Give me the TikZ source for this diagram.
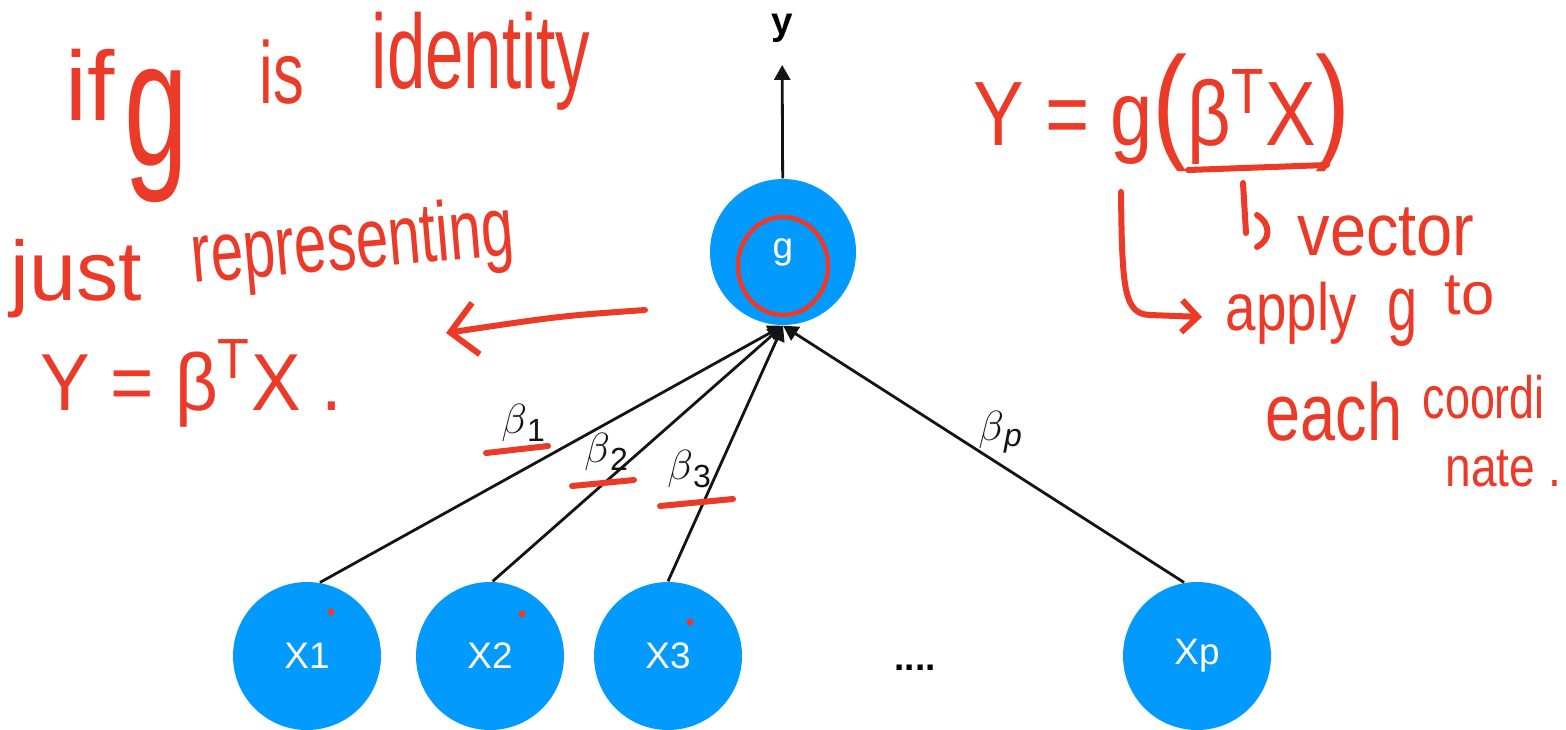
\documentclass[tikz,border=0pt]{standalone}
\usepackage{fontspec}
\setmainfont{Liberation Sans}
\usepackage{graphicx}
\usetikzlibrary{arrows.meta,positioning}
\definecolor{sky}{RGB}{2,154,253}
\definecolor{pen}{RGB}{236,58,40}
\definecolor{ink}{RGB}{20,20,20}
\newcommand{\narrow}[2]{\scalebox{#1}[1]{#2}}
\tikzset{
  >={Triangle[length=1.5mm,width=1.6mm]},
  neuron/.style={circle,fill=sky,text=white,minimum size=14.8mm,inner sep=0pt,
    font=\fontsize{10.5}{10.5}\selectfont},
  feed/.style={->,draw=ink,line width=0.28mm},
  wlabel/.style={font=\fontsize{13}{13}\selectfont,text=ink,inner sep=0pt},
  % handwritten notes
  hand/.style={text=pen,inner sep=0pt,anchor=base west,font=\fontsize{#1}{#1}\selectfont},
  penline/.style={draw=pen,line width=0.6mm,line cap=round,line join=round},
  barb/.style={-{Straight Barb[length=#1,width=2*#1]}},
}
\begin{document}
\begin{tikzpicture}[x=0.1mm,y=-0.1mm]
\useasboundingbox (0,0) rectangle (1566,729);
% network
\node[neuron,minimum size=14.6mm] (g) at (783,252) {g};
\node[neuron] (x1) at (307,656) {X1};
\node[neuron] (x2) at (490,656) {X2};
\node[neuron] (x3) at (668,656) {X3};
\node[neuron] (xp) at (1197,656) {Xp};
\node[anchor=base,font=\fontsize{10.5}{10.5}\selectfont\bfseries] (dots) at (915,670) {....};
\node[font=\fontsize{11}{11}\selectfont\bfseries,inner sep=2.2mm] (y) at (782,28) {y};
\draw[feed] (g) -- (y);
\draw[feed] (x1.80) -- (g.south);
\draw[feed] (x2.88) -- (g.south);
\draw[feed] (x3.90) -- (g.south);
\draw[feed] (xp.100) -- (g.south);
\node[wlabel] (b1) at (524,423) {$\beta$\textsubscript{1}};
\node[wlabel] (b2) at (607,452) {$\beta$\textsubscript{2}};
\node[wlabel] (b3) at (690,469) {$\beta$\textsubscript{3}};
\node[wlabel] (bp) at (1001,432) {$\beta$\textsubscript{\textit{p}}};
% marks on the network
\draw[penline,line width=0.45mm] (783,266) ellipse [x radius=45,y radius=49];
\draw[penline] (486,453) -- (548,446);
\draw[penline] (572,486) -- (634,480);
\draw[penline] (660,506) -- (733,499);
\foreach \p in {(331,612),(522,614),(690,622)}
  \fill[pen] \p circle (3.5);
% left notes
\node[hand=28] (nIf) at (65,120) {if};
\node[hand=51] (nG) at (124,165) {\narrow{0.64}{g}};
\node[hand=25] (nIs) at (259,103) {\narrow{0.7}{is}};
\node[hand=30] (nId) at (371,88) {\narrow{0.655}{identity}};
\node[hand=24] (nJust) at (10,300) {just};
\node[hand=24,rotate=5] (nRep) at (193,283) {\narrow{0.69}{representing}};
\node[hand=23] (nLin) at (40,410) {\narrow{0.92}{Y = β\textsuperscript{T}X .}};
\coordinate (fromG) at (645,310);
\coordinate (toRep) at (446,333);
\draw[penline,barb=2.6mm] (fromG) .. controls (560,316) .. (toRep);
% right notes
\node[hand=26] (nGlm) at (973,145) {\narrow{0.83}{Y = g{\fontsize{36}{36}\selectfont(}β\textsuperscript{T}X{\fontsize{36}{36}\selectfont)}}};
\draw[penline] (1188,170) -- (1327,165);
\draw[penline] (1243,183) -- (1246,233);
\draw[penline] (1257,215) .. controls (1272,225) and (1270,240) .. (1257,247);
\node[hand=21] (nVec) at (1297,255) {\narrow{0.88}{vector}};
\coordinate (gTail) at (1121,192);
\coordinate (toApply) at (1202,317);
\draw[penline,barb=1.6mm] (gTail) .. controls (1122,290) and (1124,314) .. (1150,315) -- (toApply);
\node[hand=19] (nApply) at (1225,330) {\narrow{0.82}{apply}};
\node[hand=22] (nG2) at (1387,330) {\narrow{0.7}{g}};
\node[hand=17] (nTo) at (1444,314) {to};
\node[hand=23] (nEach) at (1265,440) {\narrow{0.78}{each}};
\node[hand=17] (nCoord) at (1422,418) {\narrow{0.75}{coordi}};
\node[hand=16] (nNate) at (1445,486) {\narrow{0.82}{nate .}};
\end{tikzpicture}
\end{document}
